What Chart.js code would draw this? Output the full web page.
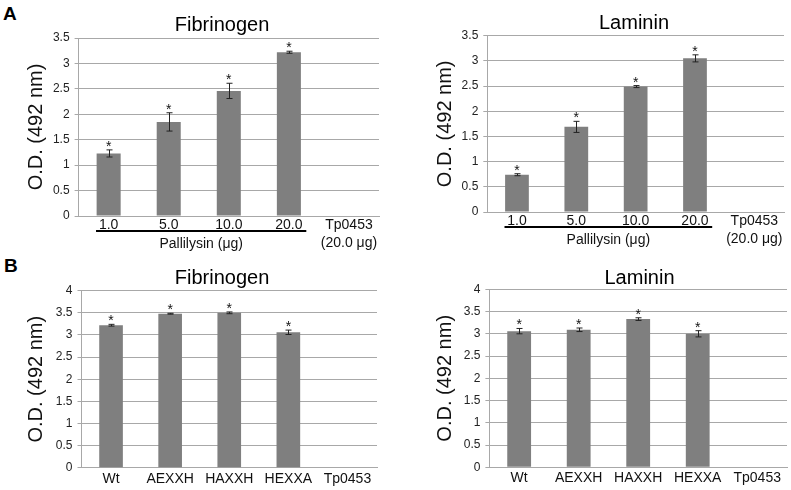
<!DOCTYPE html>
<html>
<head>
<meta charset="utf-8">
<script src="https://cdn.jsdelivr.net/npm/chart.js@4.4.1/dist/chart.umd.min.js"></script>
<style>
  body { margin: 0; background: #fff; }
  #wrap { position: relative; width: 791px; height: 490px; overflow: hidden; font-family: 'Liberation Sans', Arial, sans-serif; }
  canvas { position: absolute; }
  .lbl { position: absolute; font-weight: bold; font-size: 19px; line-height: 19px; color: #000; }
</style>
</head>
<body>
<div id="wrap">
  <div class="lbl" style="left:3px; top:4px;">A</div>
  <div class="lbl" style="left:4px; top:256px;">B</div>
  <canvas id="chartA1" width="387" height="255" style="left:0px; top:0px;"></canvas>
  <canvas id="chartA2" width="391" height="255" style="left:400px; top:0px;"></canvas>
  <canvas id="chartB1" width="385" height="235" style="left:0px; top:255px;"></canvas>
  <canvas id="chartB2" width="391" height="235" style="left:400px; top:255px;"></canvas>
</div>
<script>
var doseLabels = ['1.0', '5.0', '10.0', '20.0', ['Tp0453', '(20.0 μg)']];
var mutantLabels = ['Wt', 'AEXXH', 'HAXXH', 'HEXXA', 'Tp0453'];

var fibDose = [1.23, 1.85, 2.46, 3.22, 0.01];
var fibDoseErr = [0.07, 0.18, 0.15, 0.02, 0];
var lamDose = [0.74, 1.69, 2.49, 3.05, 0.01];
var lamDoseErr = [0.02, 0.11, 0.02, 0.07, 0];

var fibMut = [3.22, 3.48, 3.50, 3.06, 0.01];
var fibMutErr = [0.02, 0.01, 0.02, 0.05, 0];
var lamMut = [3.06, 3.09, 3.33, 3.00, 0.01];
var lamMutErr = [0.06, 0.04, 0.03, 0.07, 0];

var starred = [true, true, true, true, false];
var groupLabel = 'Pallilysin (μg)';

var BAR = '#7f7f7f';
var GRID = '#a8a8a8';
var FONT = "'Liberation Sans', Arial, sans-serif";
Chart.defaults.font.family = FONT;
Chart.defaults.color = '#111';

// error bars + asterisks
var errPlugin = {
  id: 'errBars',
  afterDatasetsDraw: function(chart) {
    var meta = chart.getDatasetMeta(0);
    var errs = chart.options.plugins.errBars.err;
    var yS = chart.scales.y;
    var vals = chart.data.datasets[0].data;
    var c = chart.ctx;
    c.save();
    c.strokeStyle = '#222';
    c.lineWidth = 1;
    meta.data.forEach(function(bar, i) {
      var x = Math.round(bar.x) + 0.5;
      var yTop = yS.getPixelForValue(vals[i] + errs[i]);
      var yBot = yS.getPixelForValue(vals[i] - errs[i]);
      if (errs[i] > 0) {
        c.beginPath();
        c.moveTo(x, yTop); c.lineTo(x, yBot);
        c.moveTo(x - 3, yTop); c.lineTo(x + 3, yTop);
        c.moveTo(x - 3, yBot); c.lineTo(x + 3, yBot);
        c.stroke();
      }
      if (starred[i]) {
        c.fillStyle = '#111';
        c.font = '14px ' + FONT;
        c.textAlign = 'center';
        c.textBaseline = 'alphabetic';
        c.fillText('*', bar.x, yTop + 1);
      }
    });
    c.restore();
  }
};

// panel title, underline and label under the pallilysin doses
var panelPlugin = {
  id: 'panel',
  afterDraw: function(chart) {
    var o = chart.options.plugins.panel;
    var c = chart.ctx;
    c.save();
    c.fillStyle = '#000';
    c.font = '20px ' + FONT;
    c.textAlign = 'center';
    c.textBaseline = 'middle';
    c.fillText(o.title, o.titleX, o.titleY);
    if (o.group) {
      var xS = chart.scales.x;
      var w = xS.getPixelForValue(1) - xS.getPixelForValue(0);
      var x0 = xS.getPixelForValue(0) - 0.21 * w;
      var x1 = xS.getPixelForValue(3) + 0.29 * w;
      var y = chart.chartArea.bottom + 15;
      c.strokeStyle = '#000';
      c.lineWidth = 2;
      c.beginPath();
      c.moveTo(x0, y); c.lineTo(x1, y);
      c.stroke();
      c.fillStyle = '#111';
      c.font = '14px ' + FONT;
      c.fillText(groupLabel, (x0 + x1) / 2, chart.chartArea.bottom + 28);
    }
    c.restore();
  }
};

function makeChart(id, labels, values, errs, cfg) {
  return new Chart(document.getElementById(id), {
    type: 'bar',
    data: {
      labels: labels,
      datasets: [{
        data: values,
        backgroundColor: BAR,
        borderWidth: 0,
        barPercentage: 0.4,
        categoryPercentage: 1
      }]
    },
    plugins: [errPlugin, panelPlugin],
    options: {
      responsive: false,
      animation: false,
      layout: { padding: { left: 0, right: cfg.padRight, top: cfg.top, bottom: 0 } },
      plugins: {
        legend: { display: false },
        tooltip: { enabled: false },
        title: { display: false },
        errBars: { err: errs },
        panel: { title: cfg.title, titleX: cfg.titleX, titleY: cfg.titleY, group: cfg.group }
      },
      scales: {
        x: {
          grid: { display: false, drawTicks: false },
          border: { display: true, color: GRID },
          ticks: { font: { size: 14, lineHeight: 1.28 }, color: '#111', padding: cfg.xPad, maxRotation: 0, autoSkip: false },
          afterFit: function(s) { s.height = cfg.xHeight; }
        },
        y: {
          min: 0,
          max: cfg.max,
          ticks: {
            stepSize: 0.5,
            font: { size: 12 },
            color: '#222',
            padding: 5,
            callback: function(v) { return String(v); }
          },
          grid: { color: GRID, tickLength: 4, drawTicks: true },
          border: { display: true, color: GRID },
          title: {
            display: true,
            text: 'O.D. (492 nm)',
            color: '#111',
            font: { size: 20 },
            padding: { top: cfg.yTitlePad, bottom: 0 }
          },
          afterFit: function(s) { s.width = cfg.yWidth; }
        }
      }
    }
  });
}

makeChart('chartA1', doseLabels, fibDose, fibDoseErr, {
  title: 'Fibrinogen', titleX: 222, titleY: 25, top: 38, max: 3.5, yWidth: 78.6, padRight: 8,
  xHeight: 39, xPad: 0, yTitlePad: 24, group: true
});
makeChart('chartA2', doseLabels, lamDose, lamDoseErr, {
  title: 'Laminin', titleX: 234, titleY: 23, top: 35.7, max: 3.5, yWidth: 87.3, padRight: 7,
  xHeight: 43, xPad: 0, yTitlePad: 33, group: true
});
makeChart('chartB1', mutantLabels, fibMut, fibMutErr, {
  title: 'Fibrinogen', titleX: 222, titleY: 23.5, top: 35.7, max: 4, yWidth: 81.5, padRight: 8,
  xHeight: 22.3, xPad: 2, yTitlePad: 24, group: false
});
makeChart('chartB2', mutantLabels, lamMut, lamMutErr, {
  title: 'Laminin', titleX: 239.5, titleY: 23.5, top: 34.3, max: 4, yWidth: 89.4, padRight: 4,
  xHeight: 22.7, xPad: 2, yTitlePad: 33, group: false
});
</script>
</body>
</html>
